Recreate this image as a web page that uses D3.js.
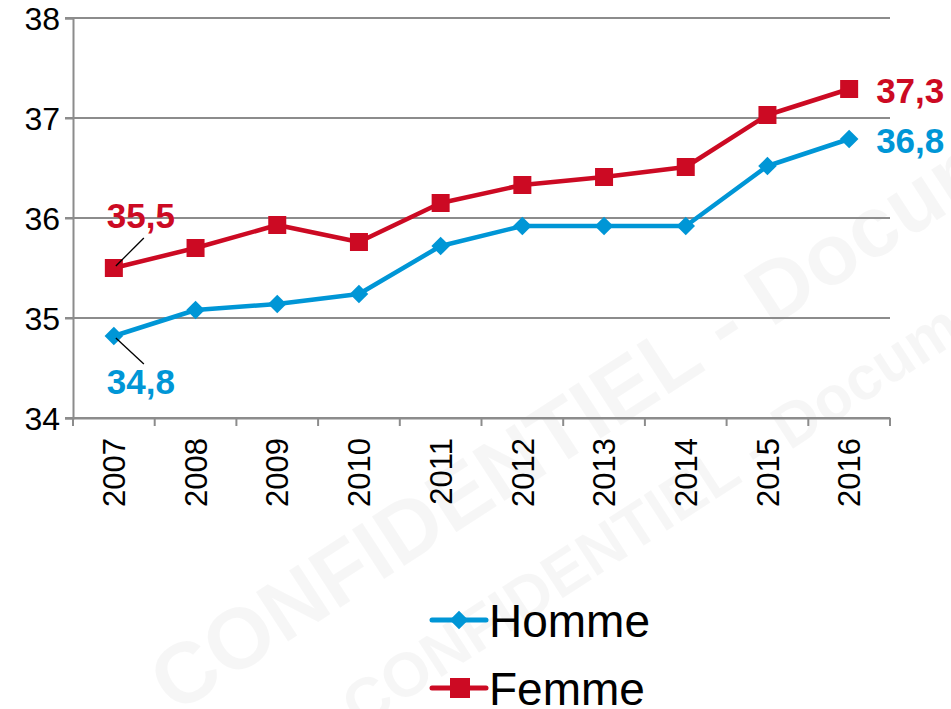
<!DOCTYPE html>
<html>
<head>
<meta charset="utf-8">
<script src="https://cdn.jsdelivr.net/npm/d3@7"></script>
<style>
  body { margin: 0; background: #fff; }
  text { font-family: Arial, "Liberation Sans", sans-serif; }
</style>
</head>
<body>
<script>

var years = ["2007","2008","2009","2010","2011","2012","2013","2014","2015","2016"];
var homme = [34.82, 35.08, 35.14, 35.24, 35.72, 35.92, 35.92, 35.92, 36.52, 36.79];
var femme = [35.5, 35.7, 35.93, 35.76, 36.15, 36.33, 36.41, 36.51, 37.03, 37.29];
var yTicks = [34, 35, 36, 37, 38];

var width = 951,
    height = 709,
    margin = {top: 18, right: 61, bottom: 291, left: 73};

var blue = "#0096d6",
    red = "#cc0a23",
    grid = "#8c8c8c";

var svg = d3.select("body").append("svg")
    .attr("width", width)
    .attr("height", height);

// faint watermark
var wm = svg.append("g")
    .attr("fill", "#000")
    .attr("fill-opacity", 0.035)
    .attr("font-weight", "bold");
wm.append("text")
    .attr("transform", "translate(175,715) rotate(-33)")
    .attr("font-size", 86)
    .text("CONFIDENTIEL - Document");
wm.append("text")
    .attr("transform", "translate(360,730) rotate(-33)")
    .attr("font-size", 62)
    .text("CONFIDENTIEL - Document");

var chart = svg.append("g")
    .attr("transform", "translate(" + margin.left + "," + margin.top + ")");

var w = width - margin.left - margin.right,
    h = height - margin.top - margin.bottom;

var x = d3.scaleBand()
    .domain(years)
    .range([0, w]);

var y = d3.scaleLinear()
    .domain([34, 38])
    .range([h, 0]);

// gridlines
chart.append("g")
    .selectAll("line")
    .data(yTicks)
  .enter().append("line")
    .attr("x1", -8)
    .attr("x2", w)
    .attr("y1", function(d) { return y(d); })
    .attr("y2", function(d) { return y(d); })
    .attr("stroke", grid)
    .attr("stroke-width", 2);

// y axis
var yAxis = chart.append("g")
    .call(d3.axisLeft(y).tickValues(yTicks).tickSize(8).tickFormat(d3.format("d")));
yAxis.select(".domain").attr("stroke", grid).attr("stroke-width", 2);
yAxis.selectAll(".tick line").attr("stroke", grid).attr("stroke-width", 2);
yAxis.selectAll("text")
    .attr("font-size", 32)
    .attr("fill", "#000")
    .attr("x", -13)
    .attr("dy", "0.36em");

// x axis
var xAxis = chart.append("g")
    .attr("transform", "translate(0," + h + ")")
    .call(d3.axisBottom(x).tickSize(0));
xAxis.select(".domain").attr("stroke", grid).attr("stroke-width", 2);
xAxis.selectAll("text")
    .attr("font-size", 31)
    .attr("fill", "#000")
    .attr("transform", "rotate(-90)")
    .attr("text-anchor", "end")
    .attr("x", -20)
    .attr("y", 0)
    .attr("dy", "0.36em");

// tick marks on band edges
chart.append("g")
    .selectAll("line")
    .data(years.concat(["end"]))
  .enter().append("line")
    .attr("x1", function(d, i) { return i * x.step(); })
    .attr("x2", function(d, i) { return i * x.step(); })
    .attr("y1", h)
    .attr("y2", h + 8)
    .attr("stroke", grid)
    .attr("stroke-width", 2);

var cx = function(d, i) { return x(years[i]) + x.bandwidth() / 2; };

var line = d3.line()
    .x(cx)
    .y(function(d) { return y(d); });

// Homme
chart.append("path")
    .datum(homme)
    .attr("fill", "none")
    .attr("stroke", blue)
    .attr("stroke-width", 4.5)
    .attr("stroke-linejoin", "round")
    .attr("d", line);

chart.append("g")
    .selectAll("path")
    .data(homme)
  .enter().append("path")
    .attr("transform", function(d, i) { return "translate(" + cx(d, i) + "," + y(d) + ")"; })
    .attr("d", d3.symbol().type(d3.symbolDiamond2).size(220))
    .attr("fill", blue);

// Femme
chart.append("path")
    .datum(femme)
    .attr("fill", "none")
    .attr("stroke", red)
    .attr("stroke-width", 4.5)
    .attr("stroke-linejoin", "round")
    .attr("d", line);

chart.append("g")
    .selectAll("rect")
    .data(femme)
  .enter().append("rect")
    .attr("x", function(d, i) { return cx(d, i) - 9; })
    .attr("y", function(d) { return y(d) - 9; })
    .attr("width", 18)
    .attr("height", 18)
    .attr("fill", red);

// data labels
var fmt = function(v) { return d3.format(".1f")(v).replace(".", ","); };
var last = years.length - 1;

function label(val, i, dx, dy, color) {
  chart.append("text")
    .attr("x", cx(val, i) + dx)
    .attr("y", y(val) + dy)
    .attr("font-size", 35)
    .attr("font-weight", "bold")
    .attr("fill", color)
    .text(fmt(val));
}

label(femme[0], 0, -7, -40, red);
label(homme[0], 0, -7, 58, blue);
label(femme[last], last, 27, 14, red);
label(homme[last], last, 27, 14, blue);

// leader lines
chart.append("line")
    .attr("x1", cx(femme[0], 0) + 2).attr("y1", y(femme[0]) - 2)
    .attr("x2", cx(femme[0], 0) + 30).attr("y2", y(femme[0]) - 30)
    .attr("stroke", "#000").attr("stroke-width", 1.3);
chart.append("line")
    .attr("x1", cx(homme[0], 0) + 2).attr("y1", y(homme[0]) + 2)
    .attr("x2", cx(homme[0], 0) + 30).attr("y2", y(homme[0]) + 28)
    .attr("stroke", "#000").attr("stroke-width", 1.3);

// legend
var legend = svg.append("g")
    .attr("transform", "translate(432,620)");

var items = [
  {name: "Homme", color: blue, shape: "diamond"},
  {name: "Femme", color: red, shape: "square"}
];

var li = legend.selectAll("g")
    .data(items)
  .enter().append("g")
    .attr("transform", function(d, i) { return "translate(0," + i * 68 + ")"; });

li.append("line")
    .attr("x1", 0).attr("x2", 54)
    .attr("stroke", function(d) { return d.color; })
    .attr("stroke-width", 5)
    .attr("stroke-linecap", "round");

li.each(function(d) {
  var g = d3.select(this);
  if (d.shape == "diamond") {
    g.append("path")
      .attr("transform", "translate(27,0)")
      .attr("d", d3.symbol().type(d3.symbolDiamond2).size(220))
      .attr("fill", d.color);
  } else {
    g.append("rect")
      .attr("x", 18).attr("y", -10)
      .attr("width", 20).attr("height", 20)
      .attr("fill", d.color);
  }
});

li.append("text")
    .attr("x", 57)
    .attr("dy", "0.36em")
    .attr("font-size", 46)
    .attr("fill", "#000")
    .text(function(d) { return d.name; });

</script>
</body>
</html>
